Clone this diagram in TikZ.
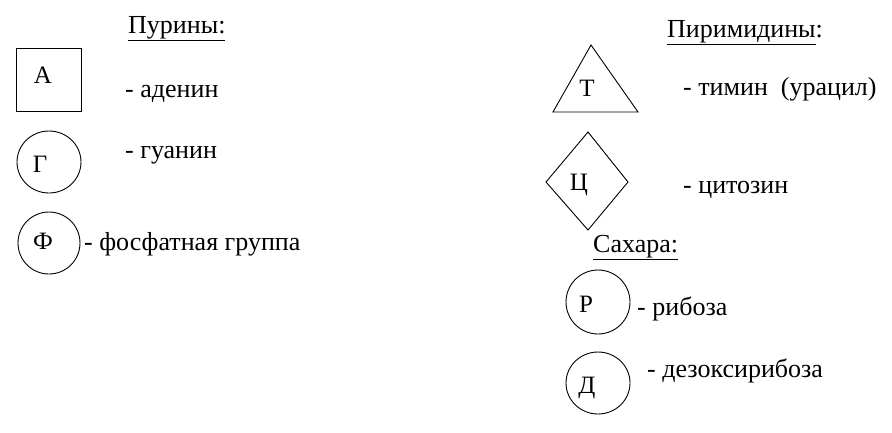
\documentclass[tikz,border=0pt]{standalone}
\usepackage{fontspec}
\setmainfont{Liberation Serif}
\begin{document}
\begin{tikzpicture}[x=1pt,y=-1pt,
  shp/.style={draw=black,line width=0.9pt},
  lbl/.style={font=\fontsize{26}{30}\selectfont,inner sep=0pt,anchor=base west},
  let/.style={font=\fontsize{25}{30}\selectfont,inner sep=0pt,anchor=base},
  hdr/.style={font=\fontsize{26}{30}\selectfont,inner sep=0pt,anchor=base west}]
\useasboundingbox (0,0) rectangle (892,432);
% headers
\node[hdr] (pur) at (128,33) {\underline{Пурины:}};
\node[hdr] (pir) at (667,37) {\underline{Пиримидины}:};
\node[hdr] (sah) at (593,252) {\underline{Сахара:}};
% adenine
\draw[shp] (16,48) rectangle (81,111);
\node[let] (A) at (43,83) {А};
\node[lbl] (tA) at (125,97) {- аденин};
% guanine
\draw[shp] (49,162) ellipse (32 and 31);
\node[let] (G) at (40,172) {Г};
\node[lbl] (tG) at (125,158) {- гуанин};
% phosphate
\draw[shp] (49,243) ellipse (31 and 31);
\node[let] (F) at (43,249) {Ф};
\node[lbl] (tF) at (84,250) {- фосфатная группа};
% thymine
\draw[shp] (591,45) -- (638,112) -- (553,112) -- cycle;
\node[let] (T) at (587,96) {Т};
\node[lbl] (tT) at (683,95) {- тимин\ \ (урацил)};
% cytosine
\draw[shp] (588,132) -- (628,182) -- (588,230) -- (546,182) -- cycle;
\node[let] (C) at (579,190) {Ц};
\node[lbl] (tC) at (683,193) {- цитозин};
% ribose
\draw[shp] (598,302) ellipse (32 and 32);
\node[let] (R) at (586,312) {Р};
\node[lbl] (tR) at (637,315) {- рибоза};
% deoxyribose
\draw[shp] (598,383) ellipse (32 and 31);
\node[let] (D) at (587,393) {Д};
\node[lbl] (tD) at (647,377) {- дезоксирибоза};
\end{tikzpicture}
\end{document}
